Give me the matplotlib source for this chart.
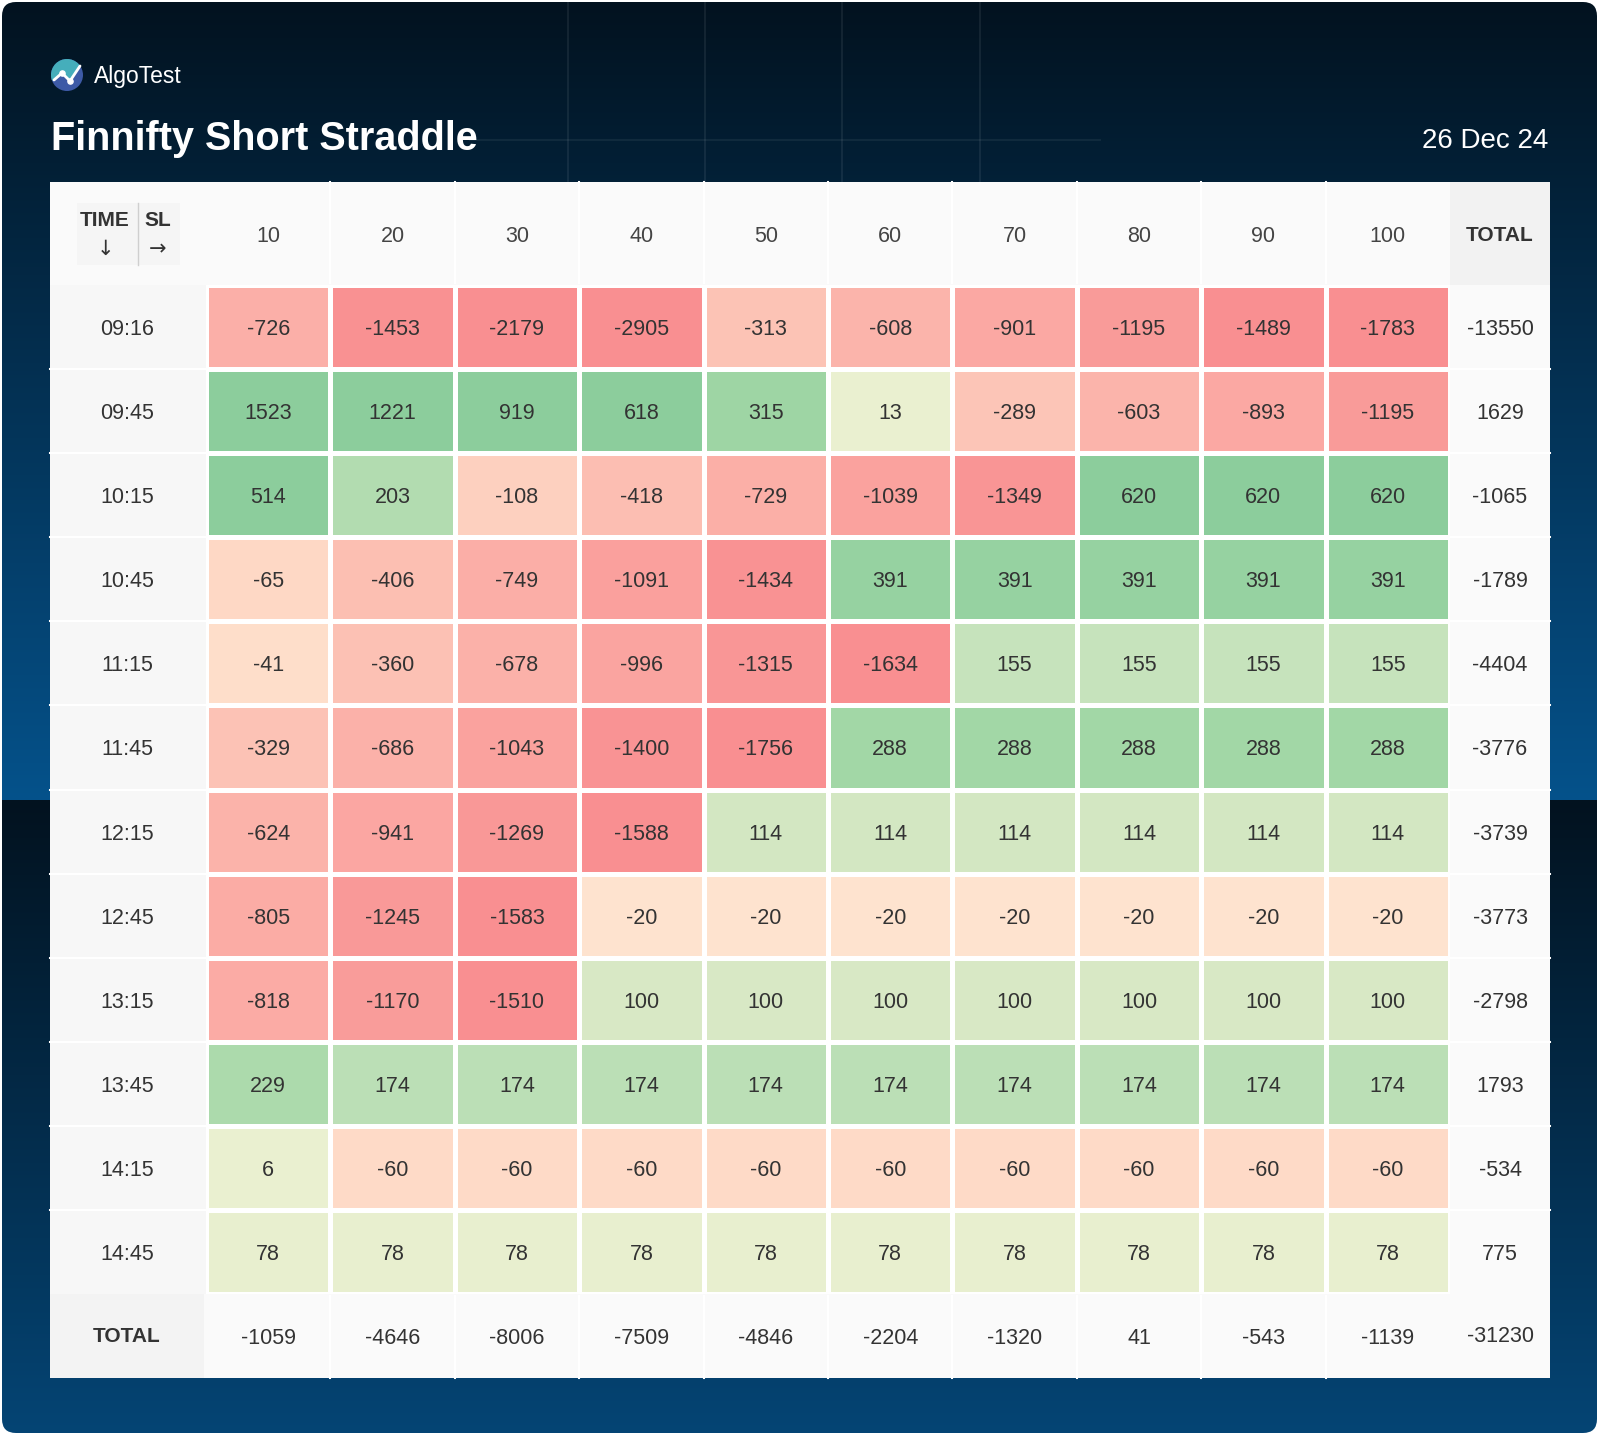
import numpy as np
import matplotlib

matplotlib.use("Agg")
import matplotlib.pyplot as plt
import matplotlib.transforms as mtransforms
from matplotlib.colors import LinearSegmentedColormap, Normalize, to_rgb
from matplotlib.patches import FancyBboxPatch, Rectangle, Circle, Polygon

plt.rcParams["font.family"] = ["Liberation Sans", "DejaVu Sans"]

# ---- data -------------------------------------------------------------
SL_LEVELS = [10, 20, 30, 40, 50, 60, 70, 80, 90, 100]
TIMES = ["09:16", "09:45", "10:15", "10:45", "11:15", "11:45",
         "12:15", "12:45", "13:15", "13:45", "14:15", "14:45"]
PNL = [
    [-726, -1453, -2179, -2905, -313, -608, -901, -1195, -1489, -1783],
    [1523, 1221, 919, 618, 315, 13, -289, -603, -893, -1195],
    [514, 203, -108, -418, -729, -1039, -1349, 620, 620, 620],
    [-65, -406, -749, -1091, -1434, 391, 391, 391, 391, 391],
    [-41, -360, -678, -996, -1315, -1634, 155, 155, 155, 155],
    [-329, -686, -1043, -1400, -1756, 288, 288, 288, 288, 288],
    [-624, -941, -1269, -1588, 114, 114, 114, 114, 114, 114],
    [-805, -1245, -1583, -20, -20, -20, -20, -20, -20, -20],
    [-818, -1170, -1510, 100, 100, 100, 100, 100, 100, 100],
    [229, 174, 174, 174, 174, 174, 174, 174, 174, 174],
    [6, -60, -60, -60, -60, -60, -60, -60, -60, -60],
    [78, 78, 78, 78, 78, 78, 78, 78, 78, 78],
]
ROW_TOTALS = [-13550, 1629, -1065, -1789, -4404, -3776,
              -3739, -3773, -2798, 1793, -534, 775]
COL_TOTALS = [-1059, -4646, -8006, -7509, -4846, -2204, -1320, 41, -543, -1139]
GRAND_TOTAL = -31230

# ---- colour scale -----------------------------------------------------
STOPS = [-1500, -1200, -900, -600, -300, -100, -50, -1, 0,
         80, 100, 150, 200, 300, 500]
STOP_COLORS = ["#f98f91", "#f99b99", "#fba8a3", "#fbb4ab", "#fcc4b6",
               "#fdd0bf", "#fedcc8", "#fee7d2", "#eaf0d0", "#e8efcf",
               "#d8e8c5", "#c8e4bd", "#b2dcb0", "#a0d6a5", "#8ccd9c"]
VMIN, VMAX = STOPS[0], STOPS[-1]
cmap = LinearSegmentedColormap.from_list(
    "pnl", [((s - VMIN) / (VMAX - VMIN), c) for s, c in zip(STOPS, STOP_COLORS)]
)
norm = Normalize(vmin=VMIN, vmax=VMAX, clip=True)

# ---- layout (pixels) --------------------------------------------------
W, H = 1600, 1436
TBL_L, TBL_R, TBL_T, TBL_B = 50, 1550, 182, 1378
DATA_L, DATA_R = 206, 1450
HDR_B, DATA_B = 285, 1294
TEXT = "#333333"

fig = plt.figure(figsize=(W / 100, H / 100), dpi=100, facecolor="white")
bg = fig.add_axes([0, 0, 1, 1])
bg.set_xlim(0, W)
bg.set_ylim(H, 0)
bg.axis("off")

# card background: two stacked vertical gradients
top_c, bot_c = np.array(to_rgb("#02121f")), np.array(to_rgb("#05528b"))
ys = np.arange(H)
t = np.where(ys < 800, ys / 800, (ys - 800) / 800)[:, None]
grad = (top_c + (bot_c - top_c) * t)[:, None, :]
card = FancyBboxPatch((2, 2), 1595, 1431, boxstyle="round,pad=0,rounding_size=14",
                      facecolor="none", edgecolor="none")
bg.add_patch(card)
im = bg.imshow(grad, extent=(0, W, H, 0), aspect="auto", zorder=0)
im.set_clip_path(card)

# faint lines in the backdrop
for x in [568, 705, 842, 980]:
    bg.plot([x, x], [2, TBL_T], color="white", alpha=0.07, lw=1.5, zorder=1)
bg.plot([470, 1100], [140, 140], color="white", alpha=0.06, lw=1.5, zorder=1)

# logo
cx, cy, r = 67, 75, 16
logo = Circle((cx, cy), r, facecolor="#3d5aa6", edgecolor="none", zorder=3)
bg.add_patch(logo)
zig = [(cx - 13, cy + 5), (cx - 5, cy - 2), (cx + 3, cy + 6), (cx + 13, cy - 9)]
teal = Polygon([(cx - 20, cy - 20), (cx + 20, cy - 20), (cx + 20, cy - 11)]
               + zig[::-1] + [(cx - 20, cy + 6)],
               facecolor="#45aebb", edgecolor="none", zorder=4)
bg.add_patch(teal)
teal.set_clip_path(logo)
zx, zy = zip(*zig)
bg.plot(zx, zy, color="white", lw=2, zorder=5, solid_capstyle="round")
bg.scatter(zx[1:3], zy[1:3], s=14, color="white", zorder=6)

bg.text(94, 77, "AlgoTest", color="white", fontsize=16.5, va="center", ha="left")
bg.text(51, 150, "Finnifty Short Straddle", color="white", fontsize=28.5,
        fontweight="bold", va="baseline", ha="left")
bg.text(1548, 148, "26 Dec 24", color="white", fontsize=20,
        va="baseline", ha="right")

# table panels
bg.add_patch(Rectangle((TBL_L, TBL_T), TBL_R - TBL_L, TBL_B - TBL_T,
                       facecolor="#fafafa", edgecolor="none", zorder=2))
bg.add_patch(Rectangle((TBL_L, HDR_B), DATA_L - TBL_L, DATA_B - HDR_B,
                       facecolor="#f7f7f7", edgecolor="none", zorder=2))
bg.add_patch(Rectangle((DATA_R, TBL_T), TBL_R - DATA_R, HDR_B - TBL_T,
                       facecolor="#f2f2f2", edgecolor="none", zorder=2))
bg.add_patch(Rectangle((TBL_L, DATA_B), DATA_L - TBL_L - 2, TBL_B - DATA_B,
                       facecolor="#f3f3f3", edgecolor="none", zorder=2))

# TIME / SL corner box
bg.add_patch(Rectangle((77, 203), 103, 62, facecolor="#f5f5f5",
                       edgecolor="none", zorder=3))
bg.plot([138, 138], [203, 265], color="#cfcfcf", lw=1, zorder=4)
bg.text(105, 220, "TIME", color=TEXT, fontsize=15, fontweight="bold",
        ha="center", va="center", zorder=5)
bg.text(158, 220, "SL", color=TEXT, fontsize=15, fontweight="bold",
        ha="center", va="center", zorder=5)
bg.text(105, 249, "↓", color=TEXT, fontsize=15, ha="center", va="center",
        family=["DejaVu Sans"], zorder=5)
bg.text(158, 249, "→", color=TEXT, fontsize=15, ha="center", va="center",
        family=["DejaVu Sans"], zorder=5)

# heatmap
values = np.array(PNL)
n_rows, n_cols = values.shape
ax = fig.add_axes([DATA_L / W, 1 - DATA_B / H, (DATA_R - DATA_L) / W,
                   (DATA_B - HDR_B) / H])
ax.pcolormesh(values, cmap=cmap, norm=norm, edgecolors="white", linewidth=2.2)
ax.set_xlim(0, n_cols)
ax.set_ylim(n_rows, 0)
ax.axis("off")

for i in range(n_rows):
    for j in range(n_cols):
        ax.text(j + 0.5, i + 0.5, f"{values[i, j]}", color=TEXT, fontsize=15.5,
                ha="center", va="center_baseline")

row_tf = mtransforms.blended_transform_factory(bg.transData, ax.transData)
col_tf = mtransforms.blended_transform_factory(ax.transData, bg.transData)

for i, (tm, tot) in enumerate(zip(TIMES, ROW_TOTALS)):
    ax.text((TBL_L + DATA_L) / 2 - 1, i + 0.5, tm, transform=row_tf, color=TEXT,
            fontsize=15.5, ha="center", va="center_baseline")
    ax.text((DATA_R + TBL_R) / 2, i + 0.5, f"{tot}", transform=row_tf,
            color=TEXT, fontsize=15.5, ha="center", va="center_baseline")
    if i > 0:
        ax.plot([TBL_L, DATA_L], [i, i], transform=row_tf, color="white",
                lw=1.5, clip_on=False)
        ax.plot([DATA_R, TBL_R], [i, i], transform=row_tf, color="white",
                lw=1.5, clip_on=False)

for j, (sl, tot) in enumerate(zip(SL_LEVELS, COL_TOTALS)):
    ax.text(j + 0.5, (TBL_T + HDR_B) / 2, f"{sl}", transform=col_tf,
            color="#444444", fontsize=15.5, ha="center", va="center_baseline")
    ax.text(j + 0.5, (DATA_B + TBL_B) / 2, f"{tot}", transform=col_tf,
            color=TEXT, fontsize=15.5, ha="center", va="center_baseline")
    if j > 0:
        ax.plot([j, j], [TBL_T, HDR_B - 2], transform=col_tf, color="white",
                lw=1.5, clip_on=False)
        ax.plot([j, j], [DATA_B + 2, TBL_B], transform=col_tf, color="white",
                lw=1.5, clip_on=False)

bg.text((DATA_R + TBL_R) / 2, (TBL_T + HDR_B) / 2, "TOTAL", color=TEXT,
        fontsize=15, fontweight="bold", ha="center", va="center_baseline",
        zorder=5)
bg.text((TBL_L + DATA_L) / 2 - 1, (DATA_B + TBL_B) / 2 - 2, "TOTAL", color=TEXT,
        fontsize=15, fontweight="bold", ha="center", va="center_baseline",
        zorder=5)
bg.text((DATA_R + TBL_R) / 2, (DATA_B + TBL_B) / 2 - 2, f"{GRAND_TOTAL}",
        color=TEXT, fontsize=15.5, ha="center", va="center_baseline", zorder=5)

fig.savefig("out.png", dpi=100, facecolor="white")
plt.close(fig)
